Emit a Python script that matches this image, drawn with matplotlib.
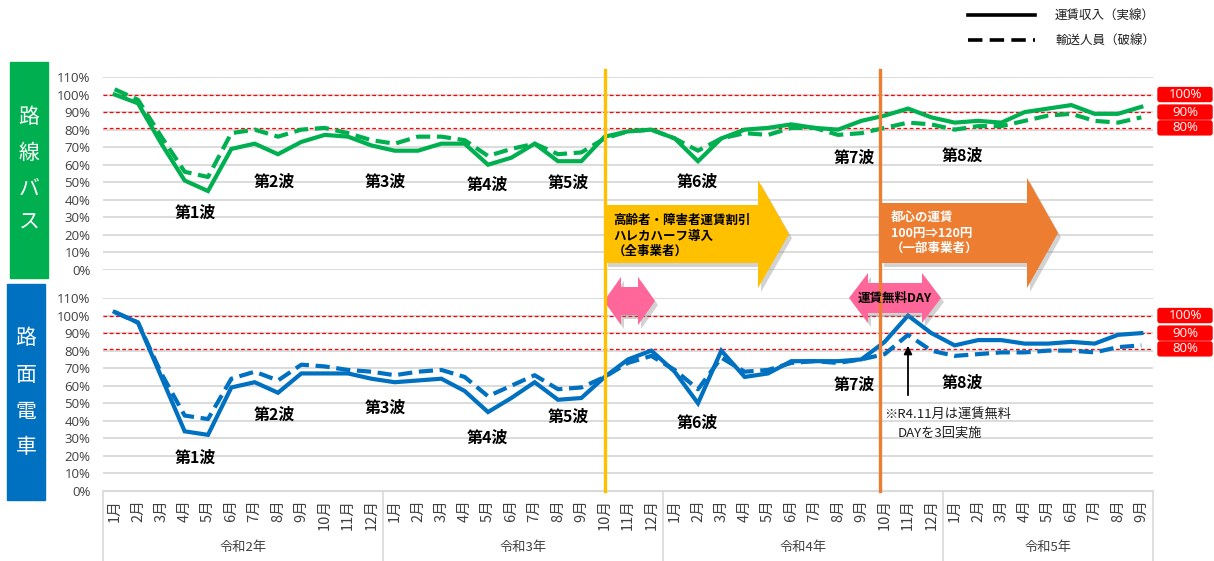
import numpy as np
import matplotlib
matplotlib.use("Agg")
import matplotlib.pyplot as plt
from matplotlib.patches import Polygon, Rectangle, FancyBboxPatch
from matplotlib.lines import Line2D

plt.rcParams['font.family'] = ['Noto Sans CJK JP', 'DejaVu Sans']

# --- data (percent vs. same month of 2019) ---
years = ['令和2年', '令和3年', '令和4年', '令和5年']
months_per_year = [12, 12, 12, 9]
month_labels = [f"{m}月" for n in months_per_year for m in range(1, n + 1)]

bus_rev = [100, 95, 72, 51, 45, 69, 72, 66, 73, 77, 76, 71,
           68, 68, 72, 72, 60, 64, 72, 62, 62, 76, 79, 80,
           75, 62, 75, 80, 81, 83, 81, 80, 85, 88, 92, 87,
           84, 85, 84, 90, 92, 94, 89, 89, 93]
bus_pax = [103, 97, 76, 56, 53, 78, 80, 76, 80, 81, 78, 74,
           72, 76, 76, 74, 65, 69, 72, 66, 67, 75, 79, 80,
           75, 68, 75, 78, 77, 81, 81, 77, 78, 81, 84, 83,
           80, 82, 82, 85, 88, 89, 85, 84, 87]
tram_rev = [102, 96, 65, 34, 32, 59, 62, 56, 67, 67, 67, 64,
            62, 63, 64, 57, 45, 53, 62, 52, 53, 65, 75, 80,
            68, 50, 80, 65, 67, 74, 74, 74, 75, 85, 100, 90,
            83, 86, 86, 84, 84, 85, 84, 89, 90]
tram_pax = [102, 96, 67, 43, 41, 64, 68, 63, 72, 71, 69, 68,
            66, 68, 69, 65, 54, 60, 66, 58, 59, 65, 73, 77,
            69, 58, 76, 68, 69, 73, 74, 73, 75, 78, 89, 80,
            77, 78, 79, 79, 80, 80, 79, 82, 83]

ref_levels = [100, 90, 81]
ref_tags = ['100%', '90%', '80%']
wave_names = ['第1波', '第2波', '第3波', '第4波', '第5波', '第6波', '第7波', '第8波']
event_x = [21.0, 32.8]   # fare change lines (month index)

# --- layout in pixels ---
W, H = 1214, 561
L, R = 103, 1153
n = len(month_labels)
GREEN, BLUE = '#00B050', '#0070C0'
YEL, ORG, PINK, RED = '#FFC000', '#ED7D31', '#FF6699', '#FF0000'


def rect(l, t, r, b):
    return [l / W, 1 - b / H, (r - l) / W, (b - t) / H]


def mx(i):
    return L + (i + 0.5) * (R - L) / n


fig = plt.figure(figsize=(W / 100, H / 100), dpi=100)
ax_top = fig.add_axes(rect(L, 77, R, 270))
ax_bot = fig.add_axes(rect(L, 298, R, 491))

x = np.arange(n)
bus_waves = [(3.44, 32.5), (6.83, 50.2), (11.59, 50.2), (15.96, 48.4),
             (19.43, 49.6), (24.96, 50.2), (31.69, 63.8), (36.32, 65.0)]
tram_waves = [(3.44, 18.8), (6.83, 43.3), (11.59, 47.3), (15.96, 30.2),
              (19.43, 42.2), (24.96, 38.8), (31.69, 60.4), (36.32, 61.6)]

for ax, rev, pax, col, waves in [(ax_top, bus_rev, bus_pax, GREEN, bus_waves),
                                 (ax_bot, tram_rev, tram_pax, BLUE, tram_waves)]:
    ax.set_xlim(-0.5, n - 0.5)
    ax.set_ylim(0, 110)
    ax.set_yticks(range(0, 111, 10))
    ax.set_yticklabels([f"{t}%" for t in range(0, 111, 10)], fontsize=9.5, color='#404040',
                       family=['Open Sans', 'DejaVu Sans'])
    ax.tick_params(axis='y', length=0, pad=9)
    for t in range(0, 111, 10):
        ax.axhline(t, color='#D9D9D9', lw=1.3, zorder=0)
    for lv in ref_levels:
        ax.axhline(lv, color=RED, lw=0.9, dashes=(3, 2), zorder=1)
    ax.plot(x, rev, color=col, lw=3, zorder=3, solid_joinstyle='miter')
    ax.plot(x, pax, color=col, lw=3, dashes=(3.4, 1.6), zorder=3)
    for name, (wx, wy) in zip(wave_names, waves):
        ax.text(wx, wy, name, ha='center', va='center', fontsize=11.5, fontweight='bold', zorder=4)
    for s in ax.spines.values():
        s.set_visible(False)

ax_top.set_xticks([])
ax_bot.set_xticks(x)
ax_bot.set_xticklabels(month_labels, rotation=90, fontsize=10.5, color='#404040')
ax_bot.tick_params(axis='x', length=0, pad=6)
ax_bot.spines['bottom'].set_visible(True)
ax_bot.spines['bottom'].set_color('#D9D9D9')

# --- decorations overlay (pixel coordinates) ---
deco = fig.add_axes([0, 0, 1, 1])
deco.set_xlim(0, W)
deco.set_ylim(H, 0)
deco.axis('off')
deco.patch.set_visible(False)

# year separators and labels
bounds = np.cumsum([0] + months_per_year)
for b in bounds:
    xb = L + b * (R - L) / n
    deco.add_line(Line2D([xb, xb], [491, 561], color='#D9D9D9', lw=1.2))
for yname, b0, b1 in zip(years, bounds[:-1], bounds[1:]):
    deco.text((mx(b0) + mx(b1 - 1)) / 2, 548, yname, ha='center', va='center', fontsize=9.5, color='#404040')

# side labels
deco.add_patch(Rectangle((10, 62), 38, 216, color=GREEN))
deco.add_patch(Rectangle((7, 284), 38, 216, color=BLUE))
for ch, yy in zip('路線バス', [117, 153, 189, 223]):
    deco.text(29, yy, ch, ha='center', va='center', fontsize=15, color='white')
for ch, yy in zip('路面電車', [338, 375, 412, 447]):
    deco.text(26, yy, ch, ha='center', va='center', fontsize=15, color='white')

# red reference tags
for panel_bottom in (270, 491):
    for lv, tag in zip(ref_levels, ref_tags):
        yy = panel_bottom - lv * 193 / 110
        deco.add_patch(FancyBboxPatch((1158, yy - 7), 54, 14, boxstyle='round,pad=0,rounding_size=2',
                                      color=RED))
        deco.text(1185, yy, tag, ha='center', va='center', fontsize=9.5, color='white',
                  family=['Open Sans', 'DejaVu Sans'])


def arrow(pts, color, shadow=True):
    pts = np.array(pts, dtype=float)
    if shadow:
        deco.add_patch(Polygon(pts + [3, 4], closed=True, color='#808080', alpha=0.35, lw=0))
    deco.add_patch(Polygon(pts, closed=True, color=color, lw=0))


# block arrows
arrow([(605, 205), (758, 205), (758, 180), (789, 234), (758, 288), (758, 263), (605, 263)], YEL)
deco.text(613, 236, '高齢者・障害者運賃割引\nハレカハーフ導入\n（全事業者）', ha='left', va='center',
          fontsize=9, fontweight='bold', linespacing=1.25)
arrow([(881, 203), (1027, 203), (1027, 178), (1058, 233), (1027, 288), (1027, 263), (881, 263)], ORG)
deco.text(891, 233, '都心の運賃\n100円⇒120円\n（一部事業者）', ha='left', va='center',
          fontsize=9, fontweight='bold', color='white', linespacing=1.25)

# pink double arrows
arrow([(604, 301), (621, 277), (621, 287), (638, 287), (638, 277), (655, 301),
       (638, 325), (638, 315), (621, 315), (621, 325)], PINK)
arrow([(849, 298), (868, 273), (868, 283), (922, 283), (922, 273), (941, 298),
       (922, 323), (922, 313), (868, 313), (868, 323)], PINK)

# fare change vertical lines
for ex, col in zip(event_x, [YEL, ORG]):
    deco.add_line(Line2D([mx(ex), mx(ex)], [70, 491], color=col, lw=2.4, zorder=6))

deco.text(895, 298, '運賃無料DAY', ha='center', va='center', fontsize=9, fontweight='bold', zorder=7)

# note arrow
deco.annotate('', xy=(mx(34), 343), xytext=(mx(34), 398),
              arrowprops=dict(arrowstyle='-|>', color='black', lw=1.3, mutation_scale=12))
deco.text(884, 415, '※R4.11月は運賃無料', ha='left', va='center', fontsize=9.5, color='#202020')
deco.text(898, 433, 'DAYを3回実施', ha='left', va='center', fontsize=9.5, color='#202020')

# legend
deco.add_line(Line2D([968, 1035], [15, 15], color='black', lw=2.6))
deco.add_line(Line2D([968, 1035], [40, 40], color='black', lw=2.6, dashes=(4, 2)))
deco.text(1055, 16, '運賃収入（実線）', ha='left', va='center', fontsize=9, color='#202020')
deco.text(1055, 41, '輸送人員（破線）', ha='left', va='center', fontsize=9, color='#202020')

fig.savefig('out.png', dpi=100)
